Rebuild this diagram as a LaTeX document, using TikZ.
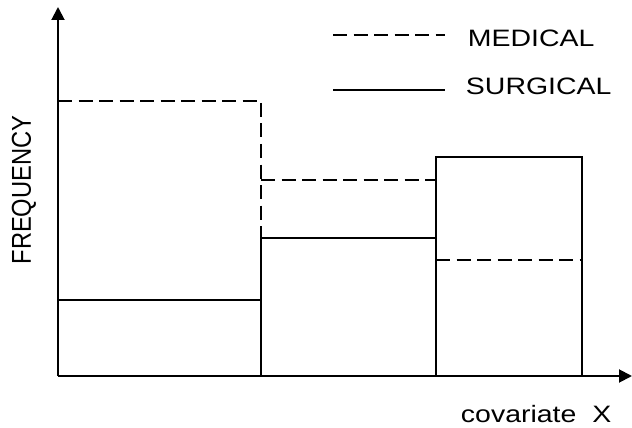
\documentclass[tikz,border=0pt]{standalone}
\usepackage{fontspec}
\setmainfont{Liberation Sans}
\usetikzlibrary{arrows.meta}
\newcommand{\wide}[1]{\scalebox{1.2}[1]{#1}}

\begin{document}
\begin{tikzpicture}[line width=1.1pt,
  axis/.style={-{Triangle[length=0.26cm,width=0.26cm]}},
  medical/.style={dash pattern=on 0.28cm off 0.13cm},
  lbl/.style={inner sep=0pt,font=\fontsize{13.5}{16}\selectfont}]
\useasboundingbox (-1.16,-1.02) rectangle (11.48,7.52);
\draw[axis] (0,0) -- (0,7.38);
\draw[axis] (0,0) -- (11.48,0);
\draw (0,1.52) -- (4.06,1.52) -- (4.06,2.76) -- (7.56,2.76) -- (7.56,4.38) -- (10.48,4.38) -- (10.48,0);
\draw (4.06,0) -- (4.06,1.52);
\draw (7.56,0) -- (7.56,2.76);
\draw[medical] (0,5.5) -- (4.06,5.5) -- (4.06,2.76);
\draw[medical] (4.06,3.92) -- (7.56,3.92);
\draw[medical] (7.56,2.32) -- (10.48,2.32);
\draw[medical] (5.5,6.82) -- (7.74,6.82);
\draw (5.5,5.72) -- (7.74,5.72);
\node[lbl,anchor=base west] (med) at (8.18,6.58) {\wide{MEDICAL}};
\node[lbl,anchor=base west] (sur) at (8.14,5.62) {\wide{SURGICAL}};
\node[lbl,anchor=base west] (xlab) at (8.04,-0.92) {\wide{covariate\ \ X}};
\node[lbl,rotate=90] (ylab) at (-0.68,3.72) {\scalebox{1}[1.15]{FREQUENCY}};
\end{tikzpicture}
\end{document}
